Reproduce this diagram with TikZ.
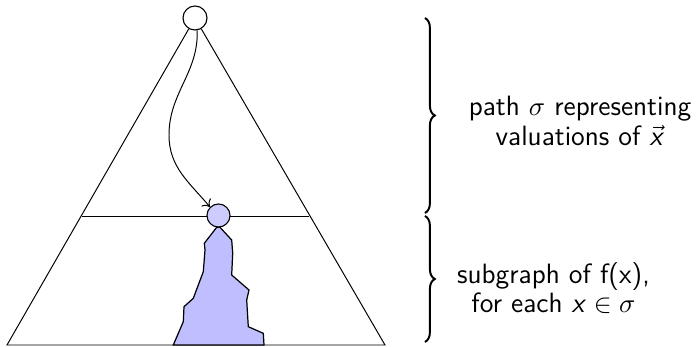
\documentclass[tikz,border=0pt]{standalone}
\usetikzlibrary{decorations.pathreplacing,arrows.meta}
\newcommand{\sfx}{\textsf{\textit{x}}}
\begin{document}
\begin{tikzpicture}[x=0.408pt,y=-0.408pt,
  vertex/.style={circle,draw,line width=0.45pt,inner sep=0pt},
  edge/.style={line width=0.4pt},
  blob/.style={draw,line width=0.5pt,fill=blue!25},
  bracestyle/.style={decorate,decoration={brace,amplitude=4pt},line width=0.8pt},
  lab/.style={font=\fontsize{11.4}{12}\selectfont\sffamily,align=center,inner sep=0pt}]
\useasboundingbox (0,0) rectangle (697,347);
% coordinates
\coordinate (bl) at (7,345);
\coordinate (br) at (385,345);
\coordinate (ml) at (82,216);
\coordinate (mr) at (309,216);
\coordinate (bend) at (169,135);
\node[vertex,minimum size=9.8pt] (top) at (195,18) {};
% triangle
\draw[edge] (top) -- (bl) -- (br) -- (top);
\draw[edge] (ml) -- (mr);
% blob
\draw[blob] (216.7,227.3) -- (220,227.3) -- (231.7,240) -- (232.7,253.3) -- (231.7,275)
  -- (249,290) -- (246.7,300) -- (248.3,326.7) -- (263.3,333.3) -- (264,345)
  -- (173.3,345) -- (183.3,321.7) -- (184,306.7) -- (193.3,298.3) -- (203.3,271.7)
  -- (205,250) -- (204.3,243.3) -- cycle;
\node[vertex,minimum size=9.4pt,fill=blue!20] (mid) at (218.5,215.5) {};
% curved arrow
\draw[edge,-{To[length=2.6pt,width=5pt]}] (top.-80) to[out=-88,in=90] (bend) to[out=-90,in=130] (mid.135);
% braces
\coordinate (b1t) at (425,18);
\coordinate (b1b) at (425,213);
\coordinate (b2t) at (425,216);
\coordinate (b2b) at (425,342);
\draw[bracestyle] (b1t) -- (b1b);
\draw[bracestyle] (b2t) -- (b2b);
% labels
\node[lab] (l1) at (580,121) {path $\sigma$ representing\\valuations of $\vec{\sfx}$};
\node[lab] (l2) at (553.5,288) {subgraph of f(x),\\for each $\sfx\in\sigma$};
\end{tikzpicture}
\end{document}
